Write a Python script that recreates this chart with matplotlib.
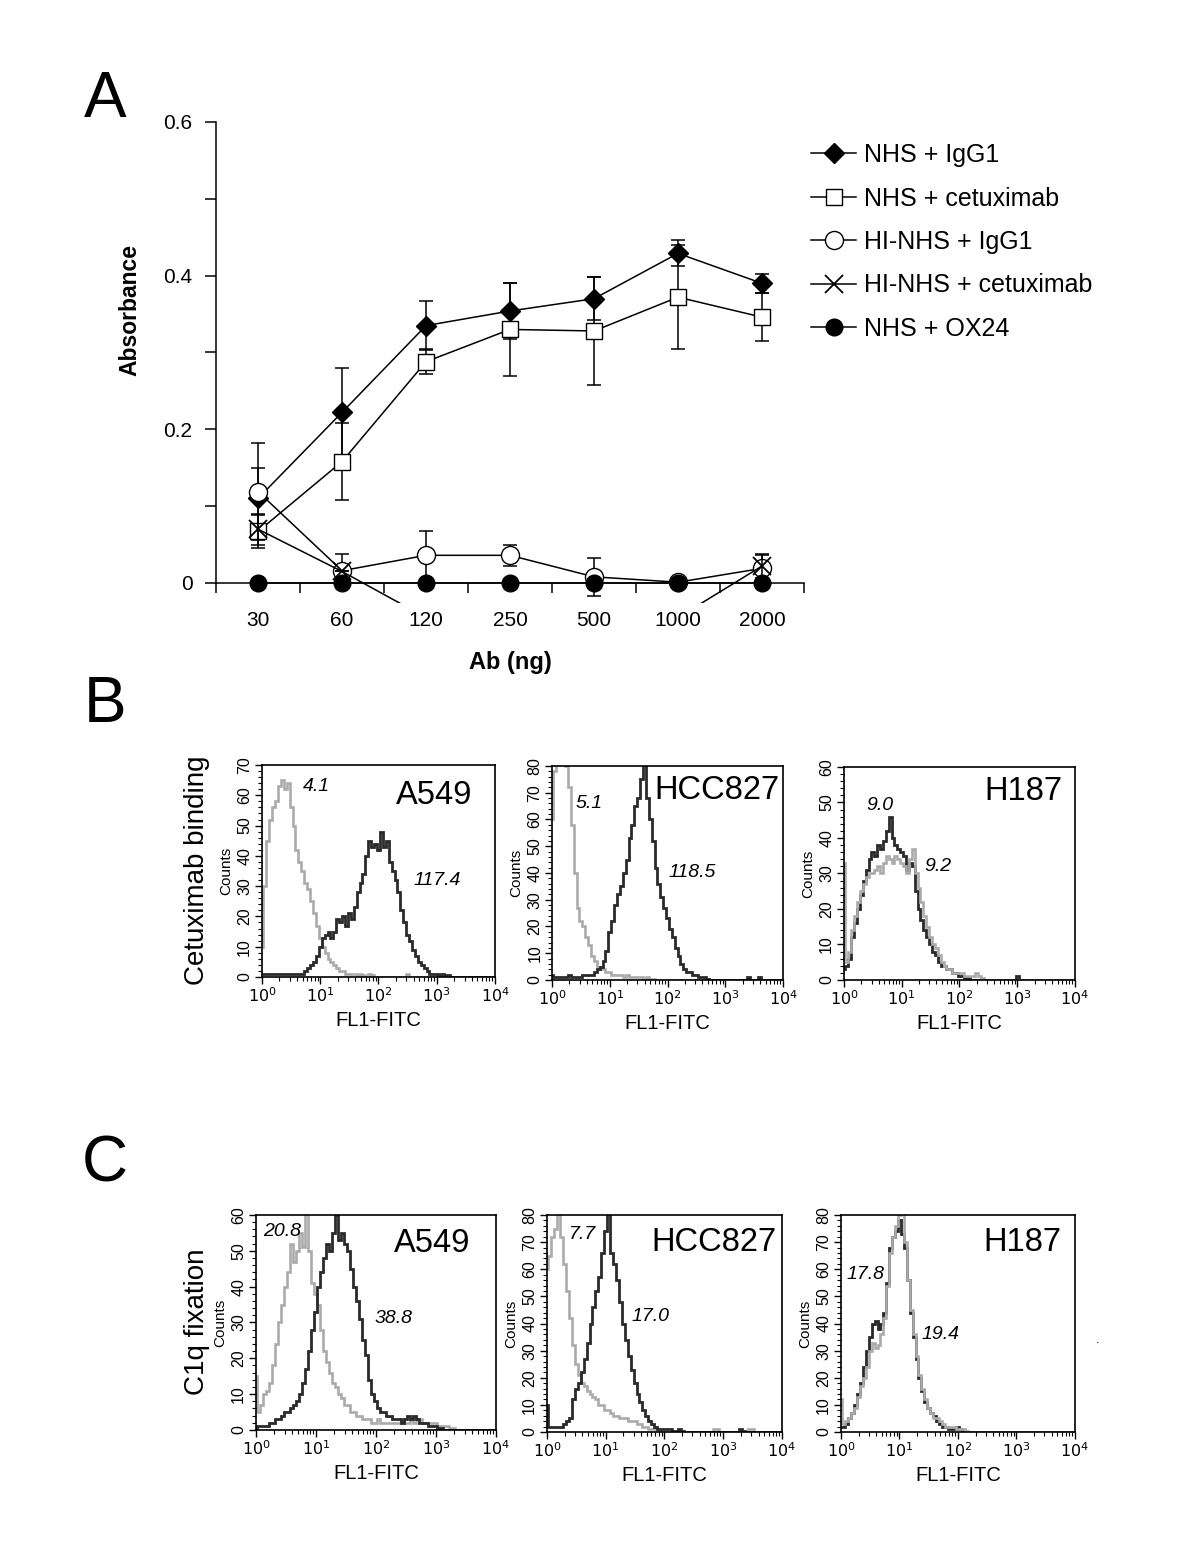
import numpy as np
import matplotlib.pyplot as plt
from matplotlib.ticker import FixedLocator, FixedFormatter, NullFormatter, LogLocator, MultipleLocator, FuncFormatter

plt.rcParams['font.family'] = ['Liberation Sans', 'DejaVu Sans']

# ---------------- panel A data ----------------
doses = ['30', '60', '120', '250', '500', '1000', '2000']
nhs_igg1 = [0.110, 0.222, 0.335, 0.354, 0.370, 0.429, 0.390]
nhs_igg1_err = [0.040, 0.058, 0.032, 0.037, 0.028, 0.017, 0.012]
nhs_cetux = [0.067, 0.158, 0.288, 0.330, 0.328, 0.372, 0.346]
nhs_cetux_err = [0.022, 0.050, 0.016, 0.060, 0.070, 0.068, 0.031]
hi_igg1 = [0.119, 0.016, 0.036, 0.036, 0.008, 0.001, 0.019]
hi_igg1_err = [0.063, 0.022, 0.032, 0.014, 0.025, 0.0, 0.018]
hi_cetux = [0.070, 0.015, -0.045, -0.060, -0.060, -0.045, 0.022]
hi_cetux_err = [0.020, 0.0, 0.0, 0.0, 0.0, 0.0, 0.016]
nhs_ox24 = [0.0, 0.0, 0.0, 0.0, 0.0, 0.0, 0.0]

# ---------------- histogram data (counts per 0.05 decade, 10^0 .. 10^4) ----------------
a549_iso = [10, 30, 45, 52, 56, 58, 63, 65, 62, 64, 56, 50, 42, 38, 35, 31, 29, 25, 21, 17,
            13, 10, 8, 6, 5, 4, 3, 2, 2, 1, 1, 1, 1, 0.5, 1, 0.5, 0, 1, 0.5, 0,
            0, 0, 0, 0, 0, 0, 0, 0, 0, 0, 1, 0, 0, 0, 0, 0, 0, 0, 0, 0,
            0, 0, 0, 0, 0, 0, 0, 0, 0, 0, 0, 0, 0, 0, 0, 0, 0, 0, 0, 0, 0]
a549_cet = [1, 1, 1, 1, 1, 1, 1, 1, 1, 1, 1, 1, 1, 1, 1, 2, 3, 4, 5, 7,
            10, 13, 14, 15, 13, 15, 19, 18, 20, 17, 21, 19, 23, 28, 31, 34, 40, 45, 43, 44,
            42, 48, 43, 45, 38, 35, 32, 28, 22, 18, 14, 12, 9, 7, 5, 4, 3, 2, 1, 1,
            1, 0.5, 1, 0.5, 0.5, 0, 0, 0, 0, 0, 0, 0, 0, 0, 0, 0, 0, 0, 0, 0, 0]
hcc_iso = [60, 78, 83, 85, 84, 80, 72, 58, 40, 27, 22, 20, 16, 13, 9, 7, 5, 4, 4, 3,
           3, 2, 2, 2, 2, 1, 2, 1, 1, 1, 1, 1, 0.5, 1, 0.5, 0.5, 0, 0, 0, 0,
           0, 0, 0, 0, 0, 0, 0, 0, 0, 0, 0, 0, 0, 0, 0, 0, 0, 0, 0, 0,
           0, 0, 0, 0, 0, 0, 0, 0, 0, 0, 0, 0, 0, 0, 0, 0, 0, 0, 0, 0, 0]
hcc_cet = [2, 1, 1, 1, 1, 1, 2, 1, 1, 1, 1, 2, 2, 2, 2, 3, 4, 5, 7, 11,
           18, 22, 28, 32, 35, 40, 45, 53, 58, 65, 68, 75, 85, 68, 60, 52, 42, 36, 31, 27,
           23, 19, 16, 12, 9, 6, 4, 3, 3, 2, 2, 1, 1, 1, 0.5, 0, 0, 0, 0, 0,
           0, 0, 0, 0, 0, 0, 0, 0, 1, 0, 0, 0, 1, 0, 0, 0, 0, 0, 0, 0, 0]
h187_iso = [33, 5, 8, 14, 18, 22, 25, 27, 29, 30, 30, 31, 32, 30, 33, 35, 34, 33, 35, 34,
            33, 32, 30, 34, 37, 30, 26, 22, 18, 15, 12, 10, 9, 7, 5, 4, 3, 3, 2, 2,
            2, 2, 1, 1, 1, 1, 2, 1, 0.5, 0, 0, 0, 0, 0, 0, 0, 0, 0, 0, 0,
            0, 0, 0, 0, 0, 0, 0, 0, 0, 0, 0, 0, 0, 0, 0, 0, 0, 0, 0, 0, 0]
h187_cet = [3, 4, 6, 12, 16, 20, 24, 28, 31, 34, 36, 35, 38, 37, 39, 42, 46, 40, 38, 37,
            36, 35, 31, 33, 32, 25, 20, 17, 14, 12, 10, 8, 7, 5, 4, 4, 3, 3, 2, 2,
            1, 1, 0.5, 0.5, 0, 0, 0, 0, 0, 0, 0, 0, 0, 0, 0, 0, 0, 0, 0, 0,
            1, 0, 0, 0, 0, 0, 0, 0, 0, 0, 0, 0, 0, 0, 0, 0, 0, 0, 0, 0, 0]

a549_c1q_iso = [15, 5, 7, 10, 11, 13, 18, 24, 30, 35, 40, 44, 52, 47, 50, 55, 51, 62, 50, 41,
                38, 35, 28, 22, 19, 16, 13, 12, 10, 9, 7, 7, 5, 5, 4, 4, 3, 3, 3, 2,
                2, 3, 2, 2, 2, 2, 2, 2, 2, 3, 2, 2, 3, 2, 3, 3, 2, 2, 2, 2,
                2, 1, 1, 1, 1, 0.5, 0.5, 0, 0, 0, 0, 0, 0, 0, 0, 0, 0, 0, 0, 0, 0]
a549_c1q_cet = [0.5, 1, 1, 1, 1, 2, 2, 3, 3, 4, 5, 5, 6, 7, 8, 10, 13, 17, 22, 28,
                33, 40, 44, 48, 52, 50, 55, 60, 53, 55, 52, 50, 45, 40, 36, 31, 25, 21, 14, 10,
                8, 6, 5, 5, 4, 4, 3, 3, 3, 2, 3, 4, 3, 4, 3, 2, 2, 2, 1, 1,
                1, 0.5, 0.5, 0, 0, 0, 0, 0, 0, 0, 0, 0, 0, 0, 0, 0, 0, 0, 0, 0, 0]
hcc_c1q_iso = [60, 65, 72, 75, 82, 72, 62, 52, 42, 32, 25, 21, 18, 17, 15, 14, 13, 12, 10, 10,
               8, 8, 7, 6, 6, 5, 5, 5, 4, 4, 4, 3, 3, 2, 2, 1, 1, 1, 0.5, 0.5,
               0.5, 0, 0, 0, 0, 0, 0, 0, 0, 0, 0, 0, 0, 0, 0, 0, 0, 1, 1, 0,
               0, 0, 0, 0, 0, 0, 0, 0, 0, 1, 1, 0, 0, 0, 0, 0, 0, 0, 0, 0, 0]
hcc_c1q_cet = [10, 2, 2, 2, 2, 2, 3, 4, 5, 12, 16, 18, 22, 27, 33, 40, 46, 52, 57, 66,
               74, 85, 66, 62, 56, 48, 40, 34, 28, 23, 18, 14, 11, 8, 6, 4, 3, 2, 1, 1,
               1, 1, 1, 0.5, 0.5, 1, 0.5, 0, 0, 0, 0, 0, 0, 0, 0, 0, 0, 0, 0, 0,
               0, 0, 0, 0, 0, 0, 1, 0.5, 0, 0, 0, 0, 0, 0, 0, 0, 0, 0, 0, 0, 0]
h187_c1q_iso = [12, 3, 4, 5, 7, 9, 13, 17, 20, 24, 30, 33, 31, 32, 36, 42, 54, 66, 72, 76,
                80, 82, 70, 56, 45, 36, 28, 21, 16, 12, 9, 7, 5, 5, 4, 3, 2, 2, 2, 2,
                1, 1, 1, 0.5, 0, 0, 0, 0, 0, 0, 0, 0, 0, 0, 0, 0, 0, 0, 0, 0,
                0, 0, 0, 0, 0, 0, 0, 0, 0, 0, 0, 0, 0, 0, 0, 0, 0, 0, 0, 0, 0]
h187_c1q_cet = [2, 2, 3, 5, 7, 10, 14, 18, 24, 30, 35, 40, 41, 38, 40, 44, 55, 68, 72, 74,
                78, 73, 68, 56, 44, 35, 27, 20, 15, 11, 9, 7, 6, 4, 3, 2, 2, 1, 1, 1,
                2, 1, 0.5, 0, 0, 0, 0, 0, 0, 0, 0, 0, 0, 0, 0, 0, 0, 0, 0, 0,
                0, 0, 0, 0, 0, 0, 0, 0, 0, 0, 0, 0, 0, 0, 0, 0, 0, 0, 0, 0, 0]

GRAY = '#ababab'
DARK = '#2a2a2a'

fig = plt.figure(figsize=(12, 15.54), dpi=100)

# ---------------- panel A ----------------
ax = fig.add_axes([0.18, 0.612, 0.49, 0.3095])
xs = np.arange(len(doses))
series = [
    (nhs_igg1, nhs_igg1_err, dict(marker='D', ms=10, mfc='black', mec='black'), 'NHS + IgG1'),
    (nhs_cetux, nhs_cetux_err, dict(marker='s', ms=12, mfc='white', mec='black'), 'NHS + cetuximab'),
    (hi_igg1, hi_igg1_err, dict(marker='o', ms=13, mfc='white', mec='black'), 'HI-NHS + IgG1'),
    (hi_cetux, hi_cetux_err, dict(marker='x', ms=13, mec='black', mew=1.3), 'HI-NHS + cetuximab'),
    (nhs_ox24, None, dict(marker='o', ms=12, mfc='black', mec='black'), 'NHS + OX24'),
]
handles = []
for i, (vals, err, mk, lab) in enumerate(series):
    if err is not None:
        ax.errorbar(xs, vals, yerr=err, fmt='none', ecolor='black', elinewidth=1.1,
                    capsize=5, capthick=1.1, zorder=2 + i)
    h, = ax.plot(xs, vals, color='black', lw=1.1, zorder=3 + i, label=lab, **mk)
    handles.append(h)

ax.set_xlim(-0.5, 6.5)
ax.set_ylim(-0.026, 0.6)
ax.spines['right'].set_visible(False)
ax.spines['top'].set_visible(False)
ax.spines['bottom'].set_position(('data', 0))
ax.spines['left'].set_bounds(0, 0.6)
for s in ['left', 'bottom']:
    ax.spines[s].set_linewidth(1.1)
ax.xaxis.set_major_locator(FixedLocator(np.arange(-0.5, 7, 1)))
ax.xaxis.set_major_formatter(NullFormatter())
ax.xaxis.set_minor_locator(FixedLocator(xs))
ax.xaxis.set_minor_formatter(FixedFormatter(doses))
ax.tick_params(axis='x', which='major', length=7, width=1.1, direction='out')
ax.tick_params(axis='x', which='minor', length=0, pad=20, labelsize=15)
ax.yaxis.set_major_locator(FixedLocator([0, 0.2, 0.4, 0.6]))
ax.yaxis.set_major_formatter(FixedFormatter(['0', '0.2', '0.4', '0.6']))
ax.yaxis.set_minor_locator(FixedLocator([0.1, 0.3, 0.5]))
ax.tick_params(axis='y', which='both', length=8, width=1.1, direction='out', pad=9, labelsize=15)
ax.patch.set_alpha(0)

ax.legend(handles=handles, loc='upper left', bbox_to_anchor=(0.676, 1 - 143 / 1554),
          bbox_transform=fig.transFigure, frameon=False, fontsize=18, handlelength=1.8,
          handletextpad=0.3, labelspacing=0.78, borderaxespad=0, borderpad=0)

fig.text(130 / 1200, 1 - 310 / 1554, 'Absorbance', rotation=90, fontsize=16.5,
         fontweight='bold', ha='center', va='center')
fig.text(510 / 1200, 1 - 663 / 1554, 'Ab (ng)', fontsize=17, fontweight='bold',
         ha='center', va='center')

# ---------------- panels B and C ----------------
edges = 10 ** np.linspace(-0.025, 4.025, 82)


def log_fmt(v, pos):
    return r'$10^{%d}$' % int(round(np.log10(v)))


def hist_panel(rect, ymax, iso, cet, cell, cell_xy, iso_txt, iso_xy, cet_txt, cet_xy, gray_on_top):
    h = fig.add_axes(rect)
    order = [(cet, DARK, 2.0), (iso, GRAY, 1.9)] if gray_on_top else [(iso, GRAY, 1.9), (cet, DARK, 2.0)]
    for vals, col, lw in order:
        h.stairs(vals, edges, baseline=None, color=col, lw=lw)
    h.set_xscale('log')
    h.set_xlim(1, 1e4)
    h.set_ylim(0, ymax)
    h.xaxis.set_major_locator(LogLocator(base=10, numticks=10))
    h.xaxis.set_major_formatter(FuncFormatter(log_fmt))
    h.xaxis.set_minor_locator(LogLocator(base=10, subs=np.arange(2, 10), numticks=20))
    h.xaxis.set_minor_formatter(NullFormatter())
    h.yaxis.set_major_locator(MultipleLocator(10))
    h.yaxis.set_minor_locator(MultipleLocator(2))
    h.tick_params(which='major', length=5, width=1, direction='out', labelsize=11.5, pad=2)
    h.tick_params(which='minor', length=3, width=0.8, direction='out')
    for lab in h.get_yticklabels():
        lab.set_rotation(90)
        lab.set_va('center')
    for s in h.spines.values():
        s.set_linewidth(1.2)
    h.set_ylabel('Counts', fontsize=11, labelpad=3)
    h.set_xlabel('FL1-FITC', fontsize=14.5, labelpad=4)
    h.text(cell_xy[0], cell_xy[1], cell, fontsize=23.5, ha='center', va='center')
    h.text(iso_xy[0], iso_xy[1], iso_txt, fontsize=14, style='italic', ha='center', va='center')
    h.text(cet_xy[0], cet_xy[1], cet_txt, fontsize=14, style='italic', ha='center', va='center')
    return h


hist_panel([0.2183, 0.3713, 0.1942, 0.1364], 70, a549_iso, a549_cet, 'A549', (10 ** 2.95, 60),
           '4.1', (10 ** 0.93, 63), '117.4', (10 ** 3.0, 32), False)
hist_panel([0.46, 0.3694, 0.1925, 0.1377], 80, hcc_iso, hcc_cet, 'HCC827', (10 ** 2.85, 71),
           '5.1', (10 ** 0.65, 66), '118.5', (10 ** 2.42, 40), False)
hist_panel([0.7033, 0.3694, 0.1925, 0.1371], 60, h187_iso, h187_cet, 'H187', (10 ** 3.1, 53),
           '9.0', (10 ** 0.62, 49), '9.2', (10 ** 1.63, 32), True)

hist_panel([0.2133, 0.0798, 0.2, 0.1384], 60, a549_c1q_iso, a549_c1q_cet, 'A549', (10 ** 2.93, 52),
           '20.8', (10 ** 0.43, 55.5), '38.8', (10 ** 2.3, 31), False)
hist_panel([0.4558, 0.0785, 0.1958, 0.1396], 80, hcc_c1q_iso, hcc_c1q_cet, 'HCC827', (10 ** 2.85, 70),
           '7.7', (10 ** 0.61, 73), '17.0', (10 ** 1.76, 42.5), False)
hist_panel([0.7008, 0.0785, 0.195, 0.1396], 80, h187_c1q_iso, h187_c1q_cet, 'H187', (10 ** 3.1, 70),
           '17.8', (10 ** 0.42, 58), '19.4', (10 ** 1.7, 36), True)

# ---------------- panel letters and side titles ----------------
fig.text(105 / 1200, 1 - 100 / 1554, 'A', fontsize=46, ha='center', va='center')
fig.text(105 / 1200, 1 - 705 / 1554, 'B', fontsize=46, ha='center', va='center')
fig.text(105 / 1200, 1 - 1165 / 1554, 'C', fontsize=46, ha='center', va='center')
fig.text(197 / 1200, 1 - 870 / 1554, 'Cetuximab binding', rotation=90, fontsize=20,
         ha='center', va='center')
fig.text(197 / 1200, 1 - 1322 / 1554, 'C1q fixation', rotation=90, fontsize=20,
         ha='center', va='center')
fig.text(1098 / 1200, 1 - 1340 / 1554, '.', fontsize=9, ha='center', va='center')

fig.savefig('out.png', dpi=100)
